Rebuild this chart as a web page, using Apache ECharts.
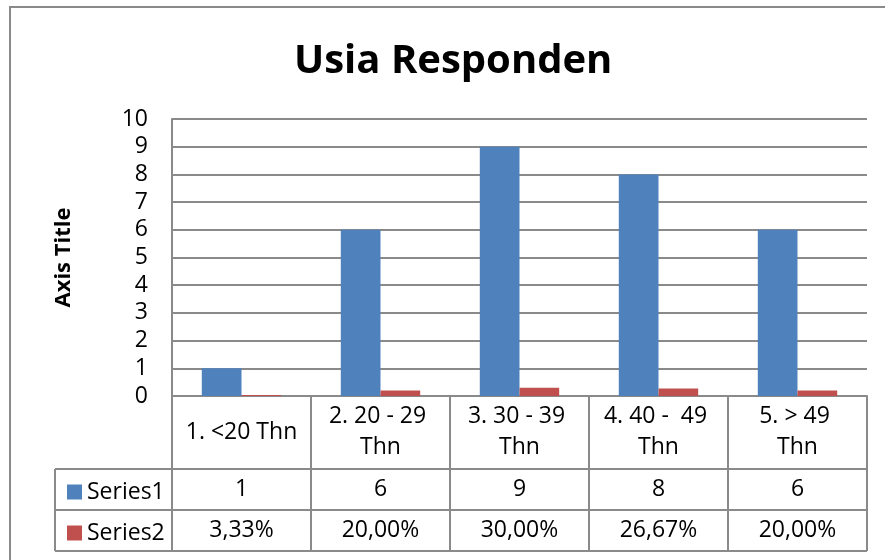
<!DOCTYPE html>
<html>
<head>
<meta charset="utf-8">
<script src="https://cdn.jsdelivr.net/npm/echarts@6/dist/echarts.min.js"></script>
<style>html,body{margin:0;padding:0;background:#fff}#c{width:885px;height:560px}</style>
</head>
<body>
<div id="c"></div>
<script>
const categories = ['1. <20 Thn', '2. 20 - 29 Thn', '3. 30 - 39 Thn', '4. 40 -  49 Thn', '5. > 49 Thn'];
const series1 = [1, 6, 9, 8, 6];
const series2 = [0.0333, 0.2, 0.3, 0.2667, 0.2];
const seriesNames = ['Series1', 'Series2'];
const yTicks = {min: 0, max: 10, interval: 1};

const FONT = '"Open Sans", sans-serif';
const FS = 23;
const GRID = {left: 172, top: 119, width: 695, height: 277};
const gridBottom = GRID.top + GRID.height;
const row1 = 469, row2 = 510, row3 = 551, tableLeft = 55;
const lineCol = '#8a8a8a';
const fmtPct = v => (v * 100).toFixed(2).replace('.', ',') + '%';

// wrap width for the header cells: just wide enough for the shortest label
const mctx = document.createElement('canvas').getContext('2d');
mctx.font = FS + 'px ' + FONT;
const wrapWidth = Math.ceil(Math.min.apply(null, categories.map(c => mctx.measureText(c).width))) + 2;

const chart = echarts.init(document.getElementById('c'), null, {renderer: 'canvas'});
const tableLine = (x1, y1, x2, y2) => ({type: 'line', shape: {x1, y1, x2, y2}, style: {stroke: lineCol, lineWidth: 2}, z: 10});

chart.setOption({
  animation: false,
  backgroundColor: '#fff',
  title: {
    text: 'Usia Responden', left: 294, top: 42, padding: 0,
    textStyle: {fontFamily: FONT, fontSize: 40, fontWeight: 'bold', color: '#000'}
  },
  legend: {
    orient: 'vertical', left: 62, top: 475, itemWidth: 15, itemHeight: 15, itemGap: 17, icon: 'rect',
    itemStyle: {borderWidth: 0},
    textStyle: {fontFamily: FONT, fontSize: FS, color: '#000', lineHeight: 24},
    itemTextGap: 5,
    data: seriesNames
  },
  grid: Object.assign({containLabel: false}, GRID),
  xAxis: [
    {
      type: 'category', data: categories, gridIndex: 0, position: 'bottom',
      axisLine: {show: true, lineStyle: {color: lineCol, width: 2}},
      axisTick: {show: true, interval: 0, length: row3 - gridBottom, lineStyle: {color: lineCol, width: 2}},
      axisLabel: {interval: 0, fontFamily: FONT, fontSize: FS, color: '#000', margin: 36, verticalAlign: 'middle',
        width: wrapWidth, overflow: 'break', lineHeight: 31, align: 'center'},
      splitLine: {show: false}
    },
    {
      type: 'category', data: series1.map(String), gridIndex: 0, position: 'bottom', offset: 0,
      axisLine: {show: false}, axisTick: {show: false},
      axisLabel: {interval: 0, fontFamily: FONT, fontSize: FS, color: '#000', margin: 93, verticalAlign: 'middle'}
    },
    {
      type: 'category', data: series2.map(fmtPct), gridIndex: 0, position: 'bottom', offset: 0,
      axisLine: {show: false}, axisTick: {show: false},
      axisLabel: {interval: 0, fontFamily: FONT, fontSize: FS, color: '#000', margin: 134, verticalAlign: 'middle'}
    }
  ],
  yAxis: {
    type: 'value', min: yTicks.min, max: yTicks.max, interval: yTicks.interval,
    name: 'Axis Title', nameLocation: 'middle', nameRotate: 90, nameGap: 97,
    nameTextStyle: {fontFamily: FONT, fontSize: 22, fontWeight: 'bold', color: '#000'},
    axisLine: {show: true, lineStyle: {color: lineCol, width: 2}},
    axisTick: {show: false},
    axisLabel: {fontFamily: FONT, fontSize: FS, color: '#000', margin: 24},
    splitLine: {show: true, lineStyle: {color: lineCol, width: 2}}
  },
  series: [
    {name: seriesNames[0], type: 'bar', data: series1, itemStyle: {color: '#4f81bd'}, barWidth: 39.7, barGap: '0%', xAxisIndex: 0},
    {name: seriesNames[1], type: 'bar', data: series2, itemStyle: {color: '#c0504d'}, barWidth: 39.7, barGap: '0%', xAxisIndex: 0}
  ],
  graphic: [
    {type: 'rect', shape: {x: 10, y: 7, width: 900, height: 600}, style: {fill: 'none', stroke: lineCol, lineWidth: 2}, z: 10},
    tableLine(tableLeft, row1, GRID.left + GRID.width, row1),
    tableLine(tableLeft, row2, GRID.left + GRID.width, row2),
    tableLine(tableLeft, row3, GRID.left + GRID.width, row3),
    tableLine(tableLeft, row1, tableLeft, row3)
  ]
});
</script>
</body>
</html>
